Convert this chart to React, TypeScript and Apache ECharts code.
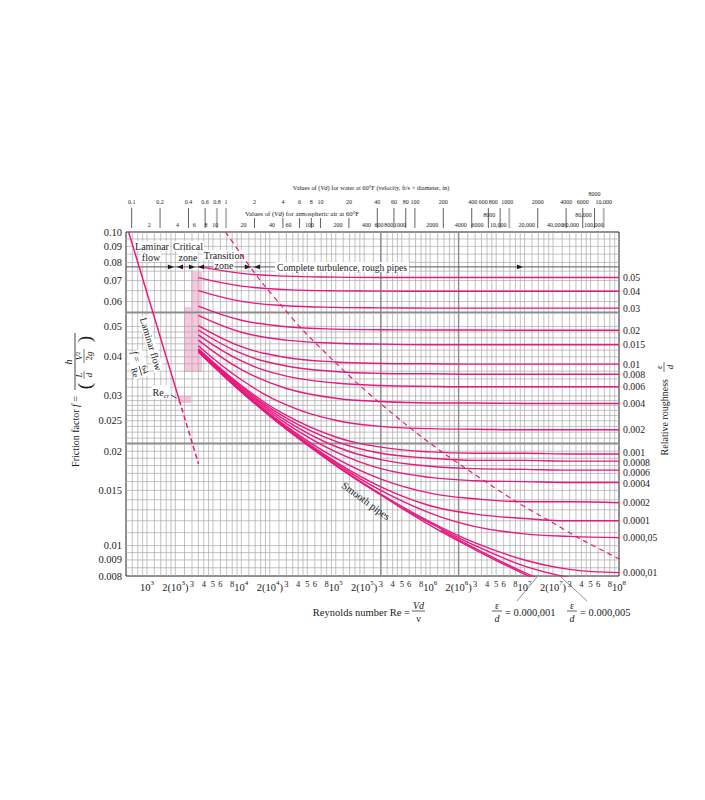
import React, { useEffect, useRef } from 'react';
import * as echarts from 'echarts';

const SERIF = '"Liberation Serif", "Times New Roman", "DejaVu Serif", serif';
const INK = '#1b1b1b';
const PINK = '#e8197f';
const PINK_FILL = '#f8c6df';
const GRID_GRAY = '#a8a8a8';

const RE_MIN = 600;
const RE_MAX = 1e8;
const F_MIN = 0.008;
const F_MAX = 0.1;

// Reynolds numbers at which the roughness curves were read
const reynolds = [3500, 1e4, 3e4, 1e5, 3e5, 1e6, 3e6, 1e7, 3e7, 1e8];

const f_0_05 = [0.0777, 0.0738, 0.0723, 0.0718, 0.0716, 0.0716, 0.0716, 0.0716, 0.0716, 0.0716];
const f_0_04 = [0.0715, 0.0672, 0.0655, 0.0649, 0.0648, 0.0647, 0.0647, 0.0647, 0.0647, 0.0647];
const f_0_03 = [0.065, 0.0601, 0.0582, 0.0575, 0.0573, 0.0572, 0.0572, 0.0572, 0.0572, 0.0572];
const f_0_02 = [0.058, 0.0523, 0.0499, 0.049, 0.0488, 0.0487, 0.0487, 0.0486, 0.0486, 0.0486];
const f_0_015 = [0.0542, 0.0479, 0.0452, 0.0442, 0.0439, 0.0437, 0.0437, 0.0437, 0.0437, 0.0437];
const f_0_01 = [0.0503, 0.0431, 0.0398, 0.0385, 0.0381, 0.038, 0.0379, 0.0379, 0.0379, 0.0379];
const f_0_008 = [0.0487, 0.041, 0.0374, 0.0359, 0.0354, 0.0353, 0.0352, 0.0352, 0.0352, 0.0352];
const f_0_006 = [0.047, 0.0388, 0.0347, 0.033, 0.0324, 0.0322, 0.0321, 0.0321, 0.0321, 0.0321];
const f_0_004 = [0.0452, 0.0364, 0.0317, 0.0295, 0.0288, 0.0285, 0.0285, 0.0284, 0.0284, 0.0284];
const f_0_002 = [0.0434, 0.0338, 0.0281, 0.0251, 0.024, 0.0236, 0.0235, 0.0234, 0.0234, 0.0234];
const f_0_001 = [0.0424, 0.0324, 0.026, 0.0222, 0.0206, 0.0199, 0.0197, 0.0197, 0.0196, 0.0196];
const f_0_0008 = [0.0423, 0.0321, 0.0255, 0.0215, 0.0197, 0.019, 0.0187, 0.0187, 0.0186, 0.0186];
const f_0_0006 = [0.0421, 0.0318, 0.025, 0.0207, 0.0188, 0.0179, 0.0176, 0.0175, 0.0174, 0.0174];
const f_0_0004 = [0.0419, 0.0315, 0.0245, 0.0199, 0.0176, 0.0165, 0.0161, 0.016, 0.0159, 0.0159];
const f_0_0002 = [0.0417, 0.0312, 0.024, 0.019, 0.0163, 0.0147, 0.0141, 0.0138, 0.0138, 0.0137];
const f_0_0001 = [0.0416, 0.031, 0.0238, 0.0185, 0.0154, 0.0134, 0.0126, 0.0122, 0.012, 0.012];
const f_0_00005 = [0.0415, 0.031, 0.0236, 0.0183, 0.015, 0.0127, 0.0115, 0.0109, 0.0107, 0.0106];
const f_0_00001 = [0.0415, 0.0309, 0.0235, 0.0181, 0.0146, 0.0119, 0.0102, 0.009, 0.0084, 0.0082];
const fSmoothPipes = [0.0415, 0.0309, 0.0235, 0.018, 0.0145, 0.0116, 0.0097, 0.0081, 0.007, 0.0059];

const roughLabels = ['0.05', '0.04', '0.03', '0.02', '0.015', '0.01', '0.008', '0.006', '0.004', '0.002',
  '0.001', '0.0008', '0.0006', '0.0004', '0.0002', '0.0001', '0.000,05', '0.000,01'];
const roughCurves = [f_0_05, f_0_04, f_0_03, f_0_02, f_0_015, f_0_01, f_0_008, f_0_006, f_0_004, f_0_002,
  f_0_001, f_0_0008, f_0_0006, f_0_0004, f_0_0002, f_0_0001, f_0_00005, f_0_00001];
// small vertical nudges of crowded right-hand labels (px)
const roughLabelDy = [0, 0, 0, 0, 0, 0, 0, 0, 0, 0, -1.5, 1.5, 2.8, 1, 0, 0, 0, 0];

// branches leaving the smooth-pipe curve
const branch000005Re = [4.5e5, 1e6, 3e6, 1e7, 3e7];
const branch000005F = [0.0134, 0.0118, 0.01, 0.0086, 0.0079];
const branch000001Re = [1.3e6, 3e6, 1e7, 3e7];
const branch000001F = [0.0112, 0.0098, 0.0082, 0.0072];

// laminar flow line
const laminarRe = [640, 2200];
const laminarF = [0.1, 0.0291];
const laminarDashedRe = [2200, 3520];
const laminarDashedF = [0.0291, 0.0182];

// boundary of complete turbulence (dashed)
const boundaryRe = [6800, 1.5e4, 2.8e4, 4.5e4, 1.03e5, 1.86e5, 2.97e5, 6.5e5, 1.43e6, 3.97e6, 8.5e6, 1.83e7, 3.9e7, 1.05e8];
const boundaryF = [0.1, 0.0716, 0.0572, 0.0486, 0.0379, 0.0321, 0.0284, 0.0234, 0.0196, 0.0159, 0.0137, 0.012, 0.0105, 0.00901];

// critical zone shading: [Re left, f top, Re right, f bottom]
const criticalZoneRects = [
  [2930, 0.0745, 3830, 0.0358],
  [2470, 0.0577, 2930, 0.0358],
  [2130, 0.03, 2930, 0.0285],
];

// zone arrows line
const ARROW_F = 0.0774;
const arrowTipRe = [1930, 2080, 3230, 3480, 12600, 13600, 9.6e6];
const arrowDir = [1, -1, 1, -1, 1, -1, 1];

// grid
const gridMantissas = [1, 1.2, 1.4, 1.6, 1.8, 2, 2.5, 3, 3.5, 4, 4.5, 5, 6, 7, 8, 9];
const gridDecades = [100, 1e3, 1e4, 1e5, 1e6, 1e7];
const hGridF = [0.0085, 0.009, 0.0095, 0.01, 0.011, 0.012, 0.013, 0.014, 0.015, 0.016, 0.017, 0.018, 0.019,
  0.02, 0.021, 0.022, 0.023, 0.024, 0.025, 0.026, 0.027, 0.028, 0.029, 0.03, 0.032, 0.034, 0.036, 0.038,
  0.04, 0.042, 0.044, 0.046, 0.048, 0.05, 0.055, 0.06, 0.065, 0.07, 0.075, 0.08, 0.085, 0.09, 0.095];
const hDarkF = [0.0555, 0.0212];
const vDarkRe = [3e5, 2e6];

// axis labels
const yTickValues = [0.1, 0.09, 0.08, 0.07, 0.06, 0.05, 0.04, 0.03, 0.025, 0.02, 0.015, 0.01, 0.009, 0.008];
const yTickLabels = ['0.10', '0.09', '0.08', '0.07', '0.06', '0.05', '0.04', '0.03', '0.025', '0.02', '0.015', '0.01', '0.009', '0.008'];

const bottomTicks = [
  1e3, 2e3, 3e3, 4e3, 5e3, 6e3, 8e3,
  1e4, 2e4, 3e4, 4e4, 5e4, 6e4, 8e4,
  1e5, 2e5, 3e5, 4e5, 5e5, 6e5, 8e5,
  1e6, 2e6, 3e6, 4e6, 5e6, 6e6, 8e6,
  1e7, 2e7, 3e7, 4e7, 5e7, 6e7, 8e7,
  1e8,
];
const bottomTickLabels = [
  '{b|10}{s|3}', '{b|2(10}{s|3}{b|)}', '{d|3}', '{d|4}', '{d|5}', '{d|6}', '{d|8}',
  '{b|10}{s|4}', '{b|2(10}{s|4}{b|)}', '{d|3}', '{d|4}', '{d|5}', '{d|6}', '{d|8}',
  '{b|10}{s|5}', '{b|2(10}{s|5}{b|)}', '{d|3}', '{d|4}', '{d|5}', '{d|6}', '{d|8}',
  '{b|10}{s|6}', '{b|2(10}{s|6}{b|)}', '{d|3}', '{d|4}', '{d|5}', '{d|6}', '{d|8}',
  '{b|10}{s|7}', '{b|2(10}{s|7}{b|)}', '{d|3}', '{d|4}', '{d|5}', '{d|6}', '{d|8}',
  '{b|10}{s|8}',
];

// top scales (Vd values)
const WATER_VD_PER_RE = 1.452e-4;
const AIR_VD_PER_RE = 1.896e-3;
const waterTicks = [0.1, 0.2, 0.4, 0.6, 0.8, 1, 2, 4, 6, 8, 10, 20, 40, 60, 80, 100, 200, 400, 600, 800, 1000, 2000, 4000, 6000, 8000, 10000];
const waterTickLabels = ['0.1', '0.2', '0.4', '0.6', '0.8', '1', '2', '4', '6', '8', '10', '20', '40', '60', '80', '100',
  '200', '400', '600', '800', '1000', '2000', '4000', '6000', '8000', '10,000'];
const waterLabelDx = [0, 0, 0, 0, 0, 0, 0, 0, 0, 0, 0, 0, 0, 0, 0, 0, 0, 1, -5, -7, -2, 0, 0, 0, 0, 0];
const waterGrayTicks = [0.8, 1, 1000, 10000];
const waterRaisedTicks = [8000];
const airTicks = [2, 4, 6, 8, 10, 20, 40, 60, 100, 200, 400, 600, 800, 1000, 2000, 4000, 6000, 8000, 10000, 20000, 40000, 60000, 80000, 100000];
const airTickLabels = ['2', '4', '6', '8', '10', '20', '40', '60', '100', '200', '400', '600', '800', '1000', '2000', '4000',
  '6000', '8000', '10,000', '20,000', '40,000', '60,000', '80,000', '100,000'];
const airLabelDx = [0, 0, 0, 0, 0, 0, 0, 0, 0, 0, 0, -4, -6, -4, 0, 0, 0, 0, 0, 0, 0, -1, 0, 1];
const airRaisedTicks = [8000, 80000];

function textEl(x: number, y: number, text: string, o: any = {}) {
  const align = o.align ?? 'center';
  const valign = o.valign ?? 'middle';
  const style: any = {
    text,
    fill: o.color ?? INK,
    fontSize: o.size ?? 11,
    fontFamily: SERIF,
    fontStyle: o.italic ? 'italic' : 'normal',
    align,
    textAlign: align,
    verticalAlign: valign,
    textVerticalAlign: valign,
  };
  if (o.rich) style.rich = o.rich;
  if (o.bg) {
    style.backgroundColor = o.bg;
    style.padding = o.pad ?? [0, 1];
  }
  const el: any = { type: 'text', x, y, style, silent: true };
  if (o.rotation) el.rotation = o.rotation;
  if (o.z != null) el.z = o.z;
  return el;
}

function lineEl(x1: number, y1: number, x2: number, y2: number, o: any = {}) {
  const el: any = {
    type: 'line',
    shape: { x1, y1, x2, y2 },
    style: { stroke: o.color ?? INK, lineWidth: o.width ?? 0.8 },
    silent: true,
  };
  if (o.z != null) el.z = o.z;
  return el;
}

const richMix = (size: number) => ({
  n: { fontSize: size, fontFamily: SERIF, fill: INK },
  i: { fontSize: size, fontFamily: SERIF, fill: INK, fontStyle: 'italic' },
  s: { fontSize: size * 0.65, fontFamily: SERIF, fill: INK, verticalAlign: 'top' },
});

const BOTTOM_RICH = {
  b: { fontSize: 10.5, fontFamily: SERIF, fill: INK, lineHeight: 14, verticalAlign: 'bottom' },
  s: { fontSize: 7, fontFamily: SERIF, fill: INK, lineHeight: 8, verticalAlign: 'top' },
  d: { fontSize: 8.5, fontFamily: SERIF, fill: INK },
};

function curve(data: number[][], extra: any = {}) {
  return {
    type: 'line', z: 5, silent: true, clip: true,
    data, smooth: 0.4, showSymbol: false, symbol: 'none',
    lineStyle: { color: PINK, width: 1.4 },
    ...extra,
  };
}

function buildOption() {
  const vGridRe = gridDecades
    .flatMap((d) => gridMantissas.map((m) => m * d))
    .filter((v) => v > RE_MIN * 1.001 && v < RE_MAX * 0.999);

  const custom = { type: 'custom', silent: true, clip: false, coordinateSystem: 'cartesian2d' };

  const series: any[] = [];

  // critical zone shading
  series.push({
    ...custom, z: 1,
    data: criticalZoneRects,
    renderItem: (p: any, api: any) => {
      const a = api.coord([api.value(0), api.value(1)]);
      const b = api.coord([api.value(2), api.value(3)]);
      return { type: 'rect', shape: { x: a[0], y: a[1], width: b[0] - a[0], height: b[1] - a[1] }, style: { fill: PINK_FILL } };
    },
  });

  const vLine = (color: string, width: number) => (p: any, api: any) => {
    const a = api.coord([api.value(0), F_MAX]);
    const b = api.coord([api.value(0), F_MIN]);
    return { type: 'line', shape: { x1: a[0], y1: a[1], x2: b[0], y2: b[1] }, style: { stroke: color, lineWidth: width } };
  };
  const hLine = (color: string, width: number) => (p: any, api: any) => {
    const a = api.coord([RE_MIN, api.value(1)]);
    const b = api.coord([RE_MAX, api.value(1)]);
    return { type: 'line', shape: { x1: a[0], y1: a[1], x2: b[0], y2: b[1] }, style: { stroke: color, lineWidth: width } };
  };

  series.push({ ...custom, z: 2, data: vGridRe.map((r) => [r, F_MIN]), renderItem: vLine(GRID_GRAY, 0.7) });
  series.push({ ...custom, z: 2, data: hGridF.map((f) => [RE_MIN, f]), renderItem: hLine(GRID_GRAY, 0.7) });
  series.push({ ...custom, z: 2, data: hDarkF.map((f) => [RE_MIN, f]), renderItem: hLine('#8c8c8c', 1.4) });
  series.push({ ...custom, z: 2, data: vDarkRe.map((r) => [r, F_MIN]), renderItem: vLine('#8c8c8c', 1.4) });
  series.push({ ...custom, z: 2, data: [[RE_MIN, ARROW_F]], renderItem: hLine('#555', 1) });

  // arrow heads
  series.push({
    ...custom, z: 7,
    data: arrowTipRe.map((r) => [r, ARROW_F]),
    renderItem: (p: any, api: any) => {
      const pt = api.coord([api.value(0), ARROW_F]);
      const d = arrowDir[p.dataIndex];
      return {
        type: 'polygon',
        shape: { points: [[pt[0], pt[1]], [pt[0] - 6 * d, pt[1] - 2.3], [pt[0] - 6 * d, pt[1] + 2.3]] },
        style: { fill: INK },
      };
    },
  });

  // roughness curves
  roughCurves.forEach((vals, i) => {
    series.push(curve(reynolds.map((r, j) => [r, vals[j]]), { name: roughLabels[i] }));
  });
  series.push(curve(reynolds.map((r, j) => [r, fSmoothPipes[j]]), { name: 'smooth' }));
  series.push(curve(branch000005Re.map((r, j) => [r, branch000005F[j]]), { name: '0.000,005' }));
  series.push(curve(branch000001Re.map((r, j) => [r, branch000001F[j]]), { name: '0.000,001' }));
  // laminar
  series.push(curve(laminarRe.map((r, j) => [r, laminarF[j]]), { smooth: false, lineStyle: { color: PINK, width: 1.5 } }));
  series.push(curve(laminarDashedRe.map((r, j) => [r, laminarDashedF[j]]), { smooth: false, lineStyle: { color: PINK, width: 1.5, type: [5, 3] } }));
  // complete turbulence boundary
  series.push(curve(boundaryRe.map((r, j) => [r, boundaryF[j]]), { smooth: 0.3, lineStyle: { color: PINK, width: 1.2, type: [5, 4] } }));

  // y-axis labels
  series.push({
    ...custom, z: 8,
    data: yTickValues.map((v) => [RE_MIN, v]),
    renderItem: (p: any, api: any) => {
      const pt = api.coord([RE_MIN, api.value(1)]);
      return textEl(pt[0] - 4, pt[1], yTickLabels[p.dataIndex], { align: 'right', size: 10.5 });
    },
  });
  // bottom labels
  series.push({
    ...custom, z: 8,
    data: bottomTicks.map((v) => [v, F_MIN]),
    renderItem: (p: any, api: any) => {
      const pt = api.coord([api.value(0), F_MIN]);
      const lab = bottomTickLabels[p.dataIndex];
      const isDigit = lab.startsWith('{d|');
      return textEl(pt[0], pt[1] + (isDigit ? 8 : 10), lab, { rich: BOTTOM_RICH, size: 10.5 });
    },
  });
  // right labels (relative roughness)
  series.push({
    ...custom, z: 8,
    data: roughCurves.map((c) => [RE_MAX, c[c.length - 1]]),
    renderItem: (p: any, api: any) => {
      const pt = api.coord([RE_MAX, api.value(1)]);
      return textEl(pt[0] + 4, pt[1] + roughLabelDy[p.dataIndex], roughLabels[p.dataIndex], { align: 'left', size: 9.8 });
    },
  });
  // top water scale
  series.push({
    ...custom, z: 8,
    data: waterTicks.map((v) => [v / WATER_VD_PER_RE, F_MAX]),
    renderItem: (p: any, api: any) => {
      const v = waterTicks[p.dataIndex];
      const pt = api.coord([api.value(0), F_MAX]);
      const x = pt[0];
      const top = pt[1];
      const underAirTitle = x > 236 && x < 370;
      const gray = waterGrayTicks.includes(v);
      const raised = waterRaisedTicks.includes(v);
      return {
        type: 'group',
        children: [
          lineEl(x, top - (underAirTitle ? 14 : 24), x, top - 4, { color: gray ? '#b9b9b9' : '#3a3a3a', width: gray ? 2 : 0.8 }),
          textEl(x + waterLabelDx[p.dataIndex], top - (raised ? 38 : 30), waterTickLabels[p.dataIndex], { size: 6 }),
        ],
      };
    },
  });
  // top air scale labels
  series.push({
    ...custom, z: 8,
    data: airTicks.map((v) => [v / AIR_VD_PER_RE, F_MAX]),
    renderItem: (p: any, api: any) => {
      const v = airTicks[p.dataIndex];
      const pt = api.coord([api.value(0), F_MAX]);
      const raised = airRaisedTicks.includes(v);
      return textEl(pt[0] + airLabelDx[p.dataIndex], pt[1] - (raised ? 17 : 7), airTickLabels[p.dataIndex], { size: 6 });
    },
  });

  const Z = 10;
  const rm10 = richMix(10);
  const graphics: any[] = [
    textEl(371, 187, '{n|Values of (}{i|Vd}{n|) for water at 60°F (velocity, ft/s × diameter, in)}', { rich: richMix(6.4), size: 6.4, z: Z }),
    textEl(302, 213, '{n|Values of (}{i|Vd}{n|) for atmospheric air at 60°F}', { rich: richMix(6.8), size: 6.8, z: Z }),

    textEl(152, 246, 'Laminar', { size: 10, bg: '#fff', z: 3 }),
    textEl(151, 257, 'flow', { size: 10, bg: '#fff', z: 3 }),
    textEl(188, 246, 'Critical', { size: 10, bg: '#fff', z: 3 }),
    textEl(188, 257, 'zone', { size: 10, bg: '#fff', z: 3 }),
    textEl(224, 255, 'Transition', { size: 10, bg: '#fff', z: 3 }),
    textEl(224, 265, 'zone', { size: 10, bg: '#fff', z: 3 }),
    textEl(342, 267, 'Complete turbulence, rough pipes', { size: 9.6, bg: '#fff', pad: [0, 2], z: 3 }),

    textEl(151, 344, 'Laminar flow', { size: 10, rotation: -1.278, bg: '#fff', z: 3 }),
    {
      type: 'group', x: 139, y: 366, rotation: -1.278,
      children: [
        { type: 'rect', shape: { x: -16, y: -8, width: 28, height: 16 }, style: { fill: '#fff' }, z: 3, silent: true },
        textEl(-10, 0, '{i|f}{n| =}', { rich: rm10, size: 10, z: Z }),
        textEl(5, -5, '64', { size: 8.5, z: Z }),
        lineEl(0, 0, 10, 0, { z: Z, width: 0.7 }),
        textEl(5, 5.5, 'Re', { size: 8.5, z: Z }),
      ],
    },
    textEl(161, 392, '{n|Re}{c|cr}', {
      rich: { n: { fontSize: 10, fontFamily: SERIF, fill: INK }, c: { fontSize: 7, fontFamily: SERIF, fill: INK, fontStyle: 'italic', verticalAlign: 'bottom', lineHeight: 14 } },
      size: 10, bg: '#fff', z: 3,
    }),
    lineEl(171, 395, 177, 398.5, { z: Z, width: 0.7 }),
    textEl(366, 501, 'Smooth pipes', { size: 10.5, rotation: -0.63, z: Z }),

    // left title
    {
      type: 'group', x: 75, y: 393, rotation: Math.PI / 2,
      children: [
        textEl(-3, 0, '{n|Friction factor }{i|f}{n| =}', { rich: rm10, size: 10, align: 'right', z: Z }),
        lineEl(3, 0, 60, 0, { z: Z, width: 0.8 }),
        textEl(31, -7, 'h', { size: 10, italic: true, z: Z }),
        textEl(7, 9, '(', { size: 19, z: Z }),
        textEl(18, 4, 'L', { size: 9, italic: true, z: Z }),
        lineEl(14, 9, 22, 9, { z: Z, width: 0.6 }),
        textEl(18, 14, 'd', { size: 9, italic: true, z: Z }),
        textEl(37, 4, '{i|V}{s|2}', { rich: richMix(9), size: 9, z: Z }),
        lineEl(30, 9, 44, 9, { z: Z, width: 0.6 }),
        textEl(37, 14, '{n|2}{i|g}', { rich: richMix(9), size: 9, z: Z }),
        textEl(54, 9, ')', { size: 19, z: Z }),
      ],
    },
    // right title
    {
      type: 'group', x: 664, y: 376, rotation: Math.PI / 2,
      children: [
        textEl(-3, 0, 'Relative roughness', { size: 10, align: 'right', z: Z }),
        textEl(9, -5, 'ε', { size: 9, z: Z }),
        lineEl(4, 0, 14, 0, { z: Z, width: 0.6 }),
        textEl(9, 6, 'd', { size: 9, italic: true, z: Z }),
      ],
    },

    // bottom texts
    textEl(410, 612, 'Reynolds number Re =', { size: 10.5, align: 'right', z: Z }),
    textEl(418.5, 605, 'Vd', { size: 10, italic: true, z: Z }),
    lineEl(412, 611, 425, 611, { z: Z, width: 0.7 }),
    textEl(418.5, 618, 'ν', { size: 10, z: Z }),

    textEl(497, 605, 'ε', { size: 10, z: Z }),
    lineEl(492, 611, 502, 611, { z: Z, width: 0.7 }),
    textEl(497, 618, 'd', { size: 10, italic: true, z: Z }),
    textEl(505, 612, '= 0.000,001', { size: 10.5, align: 'left', z: Z }),
    lineEl(517, 601, 537, 577, { z: Z, width: 0.6, color: '#444' }),

    textEl(572, 605, 'ε', { size: 10, z: Z }),
    lineEl(567, 611, 577, 611, { z: Z, width: 0.7 }),
    textEl(572, 618, 'd', { size: 10, italic: true, z: Z }),
    textEl(580, 612, '= 0.000,005', { size: 10.5, align: 'left', z: Z }),
    lineEl(587, 601, 561, 577, { z: Z, width: 0.6, color: '#444' }),
  ];

  const hiddenAxis = {
    axisLine: { show: false },
    axisTick: { show: false },
    axisLabel: { show: false },
    splitLine: { show: false },
    minorTick: { show: false },
    minorSplitLine: { show: false },
  };

  return {
    animation: false,
    backgroundColor: '#ffffff',
    grid: { left: 126, top: 232, width: 493, height: 344, show: true, borderColor: '#222', borderWidth: 1, backgroundColor: 'rgba(0,0,0,0)' },
    xAxis: { type: 'log', logBase: 10, min: RE_MIN, max: RE_MAX, ...hiddenAxis },
    yAxis: { type: 'log', logBase: 10, min: F_MIN, max: F_MAX, ...hiddenAxis },
    series,
    graphic: { elements: graphics },
  };
}

export default function App() {
  const ref = useRef<HTMLDivElement>(null);
  useEffect(() => {
    if (!ref.current) return;
    const chart = echarts.init(ref.current, null, { renderer: 'svg' });
    chart.setOption(buildOption() as any);
    return () => chart.dispose();
  }, []);
  return (
    <div
      ref={ref}
      style={{ position: 'absolute', left: 0, top: 0, width: 705, height: 800, background: '#fff' }}
    />
  );
}
